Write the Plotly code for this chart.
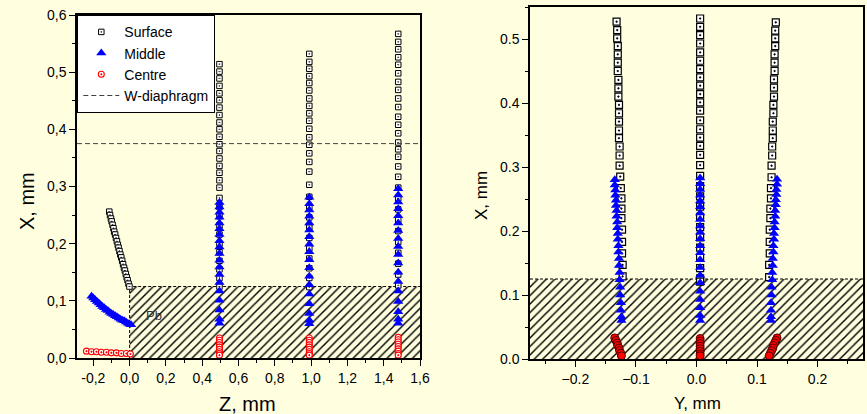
import plotly.graph_objects as go

# ---------------------------------------------------------------- data
# Left panel: trajectories in the Z-X plane (mm)
surf_diag_z = [-0.112, -0.108, -0.103, -0.099, -0.094, -0.089, -0.085, -0.080, -0.075, -0.070, -0.065, -0.061,
               -0.056, -0.051, -0.046, -0.041, -0.036, -0.031, -0.026, -0.021, -0.016, -0.011, -0.006, -0.001]
surf_diag_x = [0.256, 0.250, 0.244, 0.239, 0.233, 0.227, 0.221, 0.216, 0.210, 0.204, 0.198, 0.193,
               0.187, 0.181, 0.176, 0.170, 0.164, 0.158, 0.153, 0.147, 0.141, 0.136, 0.130, 0.125]
mid_diag_z = [-0.210, -0.200, -0.190, -0.180, -0.170, -0.160, -0.150, -0.140, -0.130, -0.120, -0.110, -0.100,
              -0.090, -0.080, -0.070, -0.060, -0.050, -0.040, -0.030, -0.020, -0.010, 0.000, 0.008]
mid_diag_x = [0.108, 0.105, 0.102, 0.099, 0.096, 0.093, 0.090, 0.088, 0.085, 0.083, 0.080, 0.078,
              0.076, 0.074, 0.072, 0.070, 0.068, 0.066, 0.065, 0.063, 0.061, 0.059, 0.058]
cen_diag_z = [-0.238, -0.210, -0.183, -0.156, -0.128, -0.101, -0.073, -0.046, -0.018, 0.004]
cen_diag_x = [0.012, 0.011, 0.011, 0.010, 0.010, 0.009, 0.009, 0.008, 0.008, 0.007]

column_z = [0.495, 0.99, 1.48]
surf_col_x = [
    [0.514, 0.501, 0.489, 0.476, 0.463, 0.451, 0.438, 0.425, 0.412, 0.400, 0.387, 0.374, 0.362, 0.349, 0.336,
     0.324, 0.311, 0.298, 0.280, 0.264, 0.248, 0.232, 0.216, 0.200, 0.185, 0.170, 0.155, 0.140, 0.125],
    [0.532, 0.518, 0.506, 0.493, 0.481, 0.468, 0.454, 0.441, 0.428, 0.415, 0.401, 0.386, 0.373, 0.358, 0.343,
     0.326, 0.303, 0.282, 0.264, 0.246, 0.228, 0.210, 0.192, 0.174, 0.157, 0.140, 0.124],
    [0.567, 0.553, 0.540, 0.526, 0.513, 0.498, 0.483, 0.469, 0.454, 0.439, 0.422, 0.408, 0.393, 0.377, 0.365,
     0.352, 0.335, 0.317, 0.298, 0.279, 0.260, 0.241, 0.222, 0.203, 0.184, 0.165, 0.146, 0.127],
]
mid_col_x = [
    [0.272, 0.264, 0.255, 0.246, 0.236, 0.226, 0.216, 0.205, 0.194, 0.183, 0.171, 0.159, 0.146, 0.132, 0.117,
     0.101, 0.084, 0.068, 0.061],
    [0.281, 0.270, 0.259, 0.248, 0.236, 0.224, 0.212, 0.199, 0.186, 0.172, 0.158, 0.143, 0.128, 0.112, 0.095,
     0.078, 0.066, 0.060],
    [0.296, 0.285, 0.273, 0.261, 0.249, 0.236, 0.223, 0.209, 0.195, 0.181, 0.166, 0.150, 0.134, 0.117, 0.099,
     0.081, 0.068, 0.061],
]
cen_col_x = [
    [0.035, 0.031, 0.027, 0.023, 0.019, 0.015, 0.011, 0.008, 0.005],
    [0.035, 0.031, 0.027, 0.023, 0.019, 0.015, 0.011, 0.008, 0.005],
    [0.036, 0.032, 0.028, 0.024, 0.020, 0.016, 0.012, 0.008, 0.005],
]

# Right panel: trajectories in the Y-X plane (mm)
rs_y = [
    [-0.132, -0.131, -0.131, -0.130, -0.130, -0.130, -0.130, -0.129, -0.129, -0.129, -0.128, -0.128, -0.128, -0.128,
     -0.128, -0.127, -0.127, -0.127, -0.126, -0.125, -0.124, -0.124, -0.124, -0.123, -0.123, -0.123, -0.122, -0.122],
    [0.006] * 30,
    [0.131, 0.130, 0.130, 0.130, 0.129, 0.129, 0.129, 0.128, 0.128, 0.128, 0.127, 0.127, 0.126, 0.126,
     0.126, 0.125, 0.125, 0.124, 0.124, 0.123, 0.123, 0.122, 0.122, 0.121, 0.121, 0.121, 0.120, 0.120],
]
rs_x = [
    [0.527, 0.514, 0.501, 0.489, 0.476, 0.463, 0.450, 0.436, 0.423, 0.410, 0.397, 0.384, 0.371, 0.357,
     0.345, 0.332, 0.318, 0.302, 0.285, 0.267, 0.251, 0.235, 0.220, 0.202, 0.183, 0.165, 0.147, 0.129],
    [0.532, 0.519, 0.506, 0.493, 0.479, 0.466, 0.453, 0.440, 0.427, 0.414, 0.401, 0.388, 0.373, 0.359, 0.346,
     0.333, 0.319, 0.303, 0.286, 0.270, 0.254, 0.238, 0.222, 0.206, 0.190, 0.174, 0.158, 0.142, 0.126, 0.121],
    [0.526, 0.513, 0.501, 0.489, 0.476, 0.463, 0.450, 0.437, 0.424, 0.410, 0.397, 0.384, 0.371, 0.357,
     0.345, 0.332, 0.318, 0.302, 0.284, 0.267, 0.251, 0.235, 0.220, 0.202, 0.183, 0.165, 0.147, 0.128],
]
rm_y = [
    [-0.135, -0.135, -0.134, -0.134, -0.133, -0.133, -0.132, -0.132, -0.131, -0.131, -0.130, -0.130,
     -0.129, -0.129, -0.128, -0.128, -0.127, -0.127, -0.126, -0.126, -0.125, -0.125, -0.124, -0.124],
    [0.006] * 22,
    [0.133, 0.133, 0.132, 0.132, 0.131, 0.131, 0.130, 0.130, 0.129, 0.129, 0.128, 0.128,
     0.127, 0.127, 0.126, 0.126, 0.125, 0.125, 0.124, 0.124, 0.123, 0.123, 0.123, 0.123],
]
rm_x = [
    [0.280, 0.272, 0.264, 0.256, 0.248, 0.240, 0.232, 0.223, 0.214, 0.205, 0.196, 0.187,
     0.177, 0.167, 0.157, 0.146, 0.135, 0.124, 0.112, 0.100, 0.088, 0.076, 0.066, 0.060],
    [0.283, 0.274, 0.265, 0.256, 0.247, 0.238, 0.228, 0.218, 0.208, 0.198, 0.188,
     0.177, 0.166, 0.155, 0.143, 0.131, 0.119, 0.106, 0.093, 0.080, 0.068, 0.060],
    [0.281, 0.273, 0.265, 0.257, 0.249, 0.241, 0.232, 0.223, 0.214, 0.205, 0.196, 0.187,
     0.177, 0.167, 0.157, 0.146, 0.135, 0.124, 0.112, 0.100, 0.088, 0.076, 0.066, 0.060],
]
rc_y = [
    [-0.135, -0.133, -0.131, -0.130, -0.128, -0.127, -0.125, -0.124],
    [0.006] * 8,
    [0.133, 0.131, 0.129, 0.127, 0.126, 0.124, 0.122, 0.120],
]
rc_x = [
    [0.033, 0.029, 0.025, 0.021, 0.017, 0.013, 0.009, 0.005],
    [0.032, 0.028, 0.024, 0.020, 0.016, 0.012, 0.008, 0.005],
    [0.033, 0.029, 0.025, 0.021, 0.017, 0.013, 0.009, 0.005],
]

# Geometry of the Pb layer and the W diaphragm (mm)
pb_thickness = 0.125
pb_front_z = 0.0
w_diaphragm_x = 0.375

# Axis ranges and tick labels
z_range = [-0.29, 1.6]
xl_range = [0.0, 0.6]
y_range = [-0.275, 0.275]
xr_range = [0.0, 0.55]
z_tickvals = [-0.2, 0.0, 0.2, 0.4, 0.6, 0.8, 1.0, 1.2, 1.4, 1.6]
z_ticktext = ["-0,2", "0,0", "0,2", "0,4", "0,6", "0,8", "1,0", "1,2", "1,4", "1,6"]
xl_tickvals = [0.0, 0.1, 0.2, 0.3, 0.4, 0.5, 0.6]
xl_ticktext = ["0,0", "0,1", "0,2", "0,3", "0,4", "0,5", "0,6"]

# ---------------------------------------------------------------- style
BG = "#FFFFE0"
FONT = "Arial, Liberation Sans, sans-serif"
W, H = 867, 414
BLUE = "#0000FF"
RED = "#FF0000"

fig = go.Figure()


def concat(cols, values):
    xs, ys = [], []
    for c, v in zip(cols, values):
        xs += [c] * len(v) if not isinstance(c, list) else c
        ys += v
    return xs, ys


# Pb layer: hatched block with dashed outline
hatch = dict(shape="/", fgcolor="#000000", bgcolor="rgba(0,0,0,0)", size=6, solidity=0.24, fgopacity=1)
fig.add_trace(go.Scatter(
    x=[pb_front_z, z_range[1], z_range[1], pb_front_z, pb_front_z],
    y=[0, 0, pb_thickness, pb_thickness, 0],
    fill="toself", fillcolor="rgba(0,0,0,0)", fillpattern=hatch,
    mode="lines", line=dict(width=0), hoverinfo="skip", showlegend=False,
    xaxis="x", yaxis="y"))
fig.add_trace(go.Scatter(
    x=[pb_front_z, pb_front_z, z_range[1]], y=[0, pb_thickness, pb_thickness],
    mode="lines", line=dict(color="#000000", width=1, dash="3px,2px"),
    hoverinfo="skip", showlegend=False, xaxis="x", yaxis="y"))
fig.add_trace(go.Scatter(
    x=[y_range[0], y_range[1], y_range[1], y_range[0], y_range[0]],
    y=[0, 0, pb_thickness, pb_thickness, 0],
    fill="toself", fillcolor="rgba(0,0,0,0)", fillpattern=hatch,
    mode="lines", line=dict(width=0), hoverinfo="skip", showlegend=False,
    xaxis="x2", yaxis="y2"))
fig.add_trace(go.Scatter(
    x=[y_range[0], y_range[1]], y=[pb_thickness, pb_thickness],
    mode="lines", line=dict(color="#000000", width=1, dash="3px,2px"),
    hoverinfo="skip", showlegend=False, xaxis="x2", yaxis="y2"))

# Left panel series
sz, sx = concat(column_z, surf_col_x)
fig.add_trace(go.Scatter(
    x=surf_diag_z + sz, y=surf_diag_x + sx, mode="markers", name="Surface",
    marker=dict(symbol="square-dot", size=5.5, color="#FFFFFF", line=dict(color="#000000", width=1)),
    xaxis="x", yaxis="y"))
mz, mx = concat(column_z, mid_col_x)
fig.add_trace(go.Scatter(
    x=mid_diag_z + mz, y=mid_diag_x + mx, mode="markers", name="Middle",
    marker=dict(symbol="triangle-up", size=9, color=BLUE, line=dict(width=0)),
    xaxis="x", yaxis="y"))
cz, cx = concat(column_z, cen_col_x)
fig.add_trace(go.Scatter(
    x=cen_diag_z + cz, y=cen_diag_x + cx, mode="markers", name="Centre",
    marker=dict(symbol="circle-dot", size=6, color="#FFFFFF", line=dict(color=RED, width=1.1)),
    xaxis="x", yaxis="y"))
fig.add_trace(go.Scatter(
    x=z_range, y=[w_diaphragm_x, w_diaphragm_x], mode="lines", name="W-diaphragm",
    line=dict(color="#404040", width=1, dash="5px,3px"),
    xaxis="x", yaxis="y"))

# Right panel series
ry, rx = concat(rs_y, rs_x)
fig.add_trace(go.Scatter(
    x=ry, y=rx, mode="markers", showlegend=False,
    marker=dict(symbol="square-dot", size=7, color="#FFFFFF", line=dict(color="#000000", width=1.2)),
    xaxis="x2", yaxis="y2"))
ry, rx = concat(rm_y, rm_x)
fig.add_trace(go.Scatter(
    x=ry, y=rx, mode="markers", showlegend=False,
    marker=dict(symbol="triangle-up", size=9, color=BLUE, line=dict(width=0)),
    xaxis="x2", yaxis="y2"))
ry, rx = concat(rc_y, rc_x)
fig.add_trace(go.Scatter(
    x=ry, y=rx, mode="markers", showlegend=False,
    marker=dict(symbol="circle", size=8, color=RED, line=dict(color="#500000", width=1)),
    xaxis="x2", yaxis="y2"))

# ---------------------------------------------------------------- axes
tickfont = dict(family=FONT, size=14, color="#000000")
common = dict(showgrid=False, zeroline=False, showline=True, linecolor="#000000", linewidth=1.5,
              mirror=True, ticks="outside", ticklen=6, tickwidth=1.2, tickcolor="#000000",
              tickfont=tickfont, automargin=False, fixedrange=True)

fig.update_layout(
    width=W, height=H,
    margin=dict(l=0, r=0, t=0, b=0),
    paper_bgcolor=BG, plot_bgcolor=BG,
    font=dict(family=FONT, color="#000000"),
    xaxis=dict(domain=[77 / W, 420 / W], range=z_range, anchor="y",
               tickmode="array", tickvals=z_tickvals, ticktext=z_ticktext,
               minor=dict(tickmode="linear", tick0=0, dtick=0.1, ticks="outside", ticklen=3,
                          tickcolor="#000000", tickwidth=1.2),
               **common),
    yaxis=dict(domain=[(H - 358) / H, (H - 15) / H], range=xl_range, anchor="x",
               tickmode="array", tickvals=xl_tickvals, ticktext=xl_ticktext,
               minor=dict(tickmode="linear", tick0=0, dtick=0.05, ticks="outside", ticklen=3,
                          tickcolor="#000000", tickwidth=1.2),
               **common),
    xaxis2=dict(domain=[530 / W, 863 / W], range=y_range, anchor="y2",
                tickmode="linear", tick0=0, dtick=0.1, tickformat=".1f",
                minor=dict(tickmode="linear", tick0=0, dtick=0.05, ticks="outside", ticklen=3,
                           tickcolor="#000000", tickwidth=1.2),
                **common),
    yaxis2=dict(domain=[(H - 359) / H, (H - 7) / H], range=xr_range, anchor="x2",
                tickmode="linear", tick0=0, dtick=0.1, tickformat=".1f",
                minor=dict(tickmode="linear", tick0=0, dtick=0.05, ticks="outside", ticklen=3,
                           tickcolor="#000000", tickwidth=1.2),
                **common),
    legend=dict(x=77 / W, y=(H - 15) / H, xanchor="left", yanchor="top",
                bgcolor="#FFFFFF", bordercolor="#000000", borderwidth=1.3,
                itemwidth=36, tracegroupgap=0,
                font=dict(family=FONT, size=14, color="#000000")),
    showlegend=True,
)

# Axis titles and the Pb label
annotations = [
    dict(text="X, mm", x=27 / W, y=(H - 201) / H, textangle=-90, font=dict(size=20)),
    dict(text="Z, mm", x=247.5 / W, y=(H - 404) / H, font=dict(size=20)),
    dict(text="X, mm", x=481 / W, y=(H - 196) / H, textangle=-90, font=dict(size=17)),
    dict(text="Y, mm", x=697 / W, y=(H - 403) / H, font=dict(size=17)),
]
for a in annotations:
    fig.add_annotation(xref="paper", yref="paper", showarrow=False, xanchor="center", yanchor="middle",
                       text=a["text"], x=a["x"], y=a["y"], textangle=a.get("textangle", 0),
                       font=dict(family=FONT, size=a["font"]["size"], color="#000000"))
fig.add_annotation(xref="x", yref="y", x=0.137, y=0.075, text="Pb", showarrow=False,
                   font=dict(family=FONT, size=13, color="#333333"))

fig.write_html("out.html")
